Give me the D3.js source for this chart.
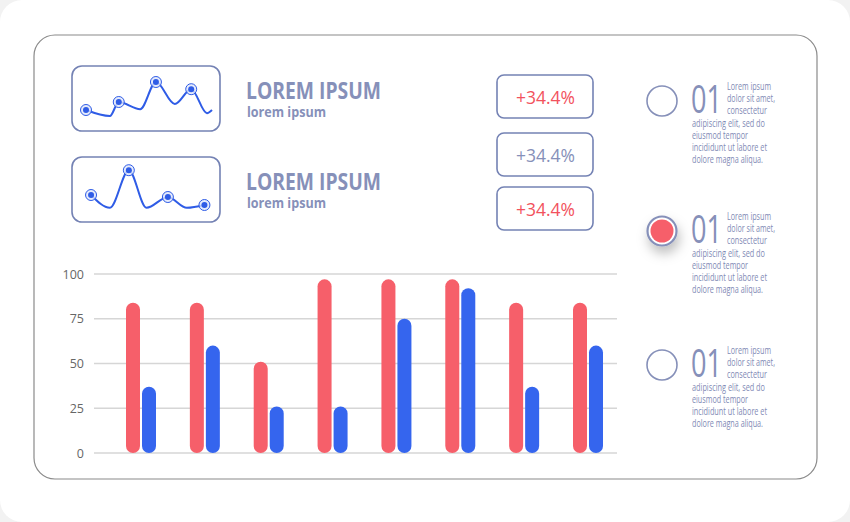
<!DOCTYPE html>
<html><head>
<meta charset="utf-8">
<script src="https://d3js.org/d3.v7.min.js"></script>
<style>
  body { margin: 0; background: #f2f2f2; }
  text { font-family: "Open Sans", sans-serif; }
  line.grid { stroke: #d6d6d6; stroke-width: 1.5px; }
  text.tick { text-anchor: end; fill: #666; font-size: 12.5px; }
</style>
</head>
<body>
<svg id="chart" width="850" height="522"></svg>
<script>
// ---- data ----
const groups = ["g1", "g2", "g3", "g4", "g5", "g6", "g7", "g8"];
const redVals = [84, 84, 51, 97, 97, 97, 84, 84];
const blueVals = [37, 60, 26, 26, 75, 92, 37, 60];
const yTicks = [0, 25, 50, 75, 100];

// sparklines: x 0..10, y 0..10, mark = dot drawn on this point
const spark1 = [
  {x: 0, y: 2, mark: true}, {x: 1.9, y: 0.5}, {x: 2.6, y: 4, mark: true},
  {x: 4.3, y: 2.2}, {x: 5.55, y: 9, mark: true}, {x: 7.05, y: 3.5},
  {x: 8.35, y: 7.2, mark: true}, {x: 9.6, y: 1.2}, {x: 10, y: 2}
];
const spark2 = [
  {x: 0.4, y: 3.5, mark: true}, {x: 1.9, y: 0.3}, {x: 3.4, y: 9.7, mark: true},
  {x: 4.8, y: 0.3}, {x: 6.5, y: 3, mark: true}, {x: 8.0, y: 0.3},
  {x: 9.4, y: 1, mark: true}
];

const headings = ["LOREM IPSUM", "LOREM IPSUM"];
const subHeadings = ["lorem ipsum", "lorem ipsum"];
const pctLabels = ["+34.4%", "+34.4%", "+34.4%"];
const pctKinds = ["up", "flat", "up"];
const itemNumbers = ["01", "01", "01"];
const itemActive = [false, true, false];
const descLines = ["Lorem ipsum", "dolor sit amet,", "consectetur",
  "adipiscing elit, sed do", "eiusmod tempor", "incididunt ut labore et", "dolore magna aliqua."];

// ---- layout / colours ----
const slate = "#8690b9", boxStroke = "#7482b4";
const red = "#f65f6a", blue = "#3565ee", lineBlue = "#2f5ce6";
const descWidths = [44, 48, 40, 73, 56, 75, 71];

const svg = d3.select("#chart");

const defs = svg.append("defs");
const f = defs.append("filter").attr("id", "shadow")
  .attr("x", "-100%").attr("y", "-100%").attr("width", "300%").attr("height", "300%");
f.append("feDropShadow").attr("dx", 2).attr("dy", 7).attr("stdDeviation", 6)
  .attr("flood-color", "#000").attr("flood-opacity", 0.25);

// page card + frame
svg.append("rect").attr("width", 850).attr("height", 522).attr("rx", 22).attr("fill", "#fff");
svg.append("rect").attr("x", 34).attr("y", 35).attr("width", 783).attr("height", 444)
  .attr("rx", 21).attr("fill", "none").attr("stroke", "#8a8a8a").attr("stroke-width", 1.2);

// ---- bar chart ----
const y = d3.scaleLinear().domain([0, 100]).range([453, 274]);
const x = d3.scalePoint().domain(groups).range([141, 588]);
const barW = 14;

const chart = svg.append("g");
chart.selectAll("line.grid").data(yTicks).join("line")
  .attr("class", "grid")
  .attr("x1", 94).attr("x2", 617)
  .attr("y1", d => y(d)).attr("y2", d => y(d));
chart.selectAll("text.tick").data(yTicks).join("text")
  .attr("class", "tick")
  .attr("x", 84).attr("y", d => y(d)).attr("dy", "0.36em")
  .text(d => d);

chart.selectAll("rect.red").data(redVals).join("rect")
  .attr("class", "red")
  .attr("x", (d, i) => x(groups[i]) - 8 - barW / 2)
  .attr("y", d => y(d)).attr("width", barW).attr("height", d => y(0) - y(d))
  .attr("rx", barW / 2).attr("fill", red);
chart.selectAll("rect.blue").data(blueVals).join("rect")
  .attr("class", "blue")
  .attr("x", (d, i) => x(groups[i]) + 8 - barW / 2)
  .attr("y", d => y(d)).attr("width", barW).attr("height", d => y(0) - y(d))
  .attr("rx", barW / 2).attr("fill", blue);

// ---- sparkline cards ----
const sparkX = d3.scaleLinear().domain([0, 10]).range([86, 212]);
[spark1, spark2].forEach((data, k) => {
  const top = k === 0 ? 66 : 157;
  const g = svg.append("g");
  g.append("rect").attr("x", 72).attr("y", top).attr("width", 148).attr("height", 65)
    .attr("rx", 10).attr("fill", "#fff").attr("stroke", boxStroke).attr("stroke-width", 1.6);
  const sy = d3.scaleLinear().domain([0, 10]).range([top + 52, top + 12]);
  const line = d3.line().x(d => sparkX(d.x)).y(d => sy(d.y)).curve(d3.curveMonotoneX);
  g.append("path").attr("d", line(data)).attr("fill", "none")
    .attr("stroke", lineBlue).attr("stroke-width", 2);
  const marks = data.filter(d => d.mark);
  g.selectAll("circle.ring").data(marks).join("circle")
    .attr("cx", d => sparkX(d.x)).attr("cy", d => sy(d.y)).attr("r", 5.5)
    .attr("fill", "#dfe6fb").attr("fill-opacity", 0.8).attr("stroke", lineBlue).attr("stroke-width", 1);
  g.selectAll("circle.dot").data(marks).join("circle")
    .attr("cx", d => sparkX(d.x)).attr("cy", d => sy(d.y)).attr("r", 3)
    .attr("fill", lineBlue);

  g.append("text").attr("x", 246).attr("y", top + 33).text(headings[k])
    .attr("font-size", 23).attr("font-weight", 700).attr("fill", slate)
    .attr("textLength", 135).attr("lengthAdjust", "spacingAndGlyphs");
  g.append("text").attr("x", 247).attr("y", top + 51).text(subHeadings[k])
    .attr("font-size", 15).attr("font-weight", 700).attr("fill", slate)
    .attr("textLength", 79).attr("lengthAdjust", "spacingAndGlyphs");
});

// ---- percentage boxes ----
const pctTops = [75, 133, 187];
pctLabels.forEach((t, i) => {
  const g = svg.append("g");
  g.append("rect").attr("x", 497).attr("y", pctTops[i]).attr("width", 96).attr("height", 43)
    .attr("rx", 7).attr("fill", "#fff").attr("stroke", boxStroke).attr("stroke-width", 1.6);
  g.append("text").attr("x", 516).attr("y", pctTops[i] + 29).text(t)
    .attr("font-size", 18).attr("font-weight", 400)
    .attr("fill", pctKinds[i] === "up" ? "#f2525d" : slate)
    .attr("textLength", 59).attr("lengthAdjust", "spacingAndGlyphs");
});

// ---- numbered items ----
const itemShift = [0, 130, 264];
itemNumbers.forEach((num, i) => {
  const dy = itemShift[i];
  const g = svg.append("g").attr("transform", `translate(0,${dy})`);
  if (itemActive[i]) {
    g.append("circle").attr("cx", 662).attr("cy", 101).attr("r", 14.5)
      .attr("fill", "#fff").attr("stroke", slate).attr("stroke-width", 2.2)
      .attr("filter", "url(#shadow)");
    g.append("circle").attr("cx", 662).attr("cy", 101).attr("r", 11.5).attr("fill", red);
  } else {
    g.append("circle").attr("cx", 662).attr("cy", 101).attr("r", 15)
      .attr("fill", "#fff").attr("stroke", slate).attr("stroke-width", 1.6);
  }
  g.append("text").attr("x", 691).attr("y", 113).text(num)
    .attr("font-size", 38).attr("font-weight", 400).attr("fill", slate)
    .attr("textLength", 31).attr("lengthAdjust", "spacingAndGlyphs");
  g.selectAll("text.desc").data(descLines).join("text")
    .attr("class", "desc")
    .attr("x", (d, j) => j < 3 ? 727 : 692)
    .attr("y", (d, j) => 90 + j * 12.2)
    .attr("font-size", 11).attr("fill", "#7f8ab5")
    .attr("textLength", (d, j) => descWidths[j]).attr("lengthAdjust", "spacingAndGlyphs")
    .text(d => d);
});
</script>
</body>
</html>
